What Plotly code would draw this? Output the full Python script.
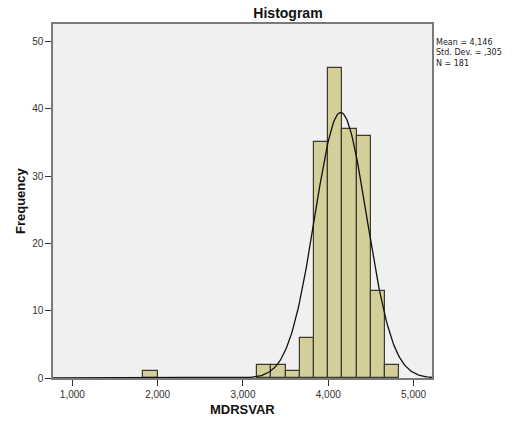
import numpy as np
import plotly.graph_objects as go

# Histogram data (values in original units; labels use comma decimal style)
bin_width = 1 / 6
bin_starts = [1.8333, 3.1667, 3.3333, 3.5, 3.6667, 3.8333, 4.0, 4.1667, 4.3333, 4.5, 4.6667]
counts = [1, 2, 2, 1, 6, 35, 46, 37, 36, 13, 2]

mean_val = 4.146
std_val = 0.305
n_val = 181

x_tick_vals = [1, 2, 3, 4, 5]
x_tick_text = ["1,000", "2,000", "3,000", "4,000", "5,000"]
y_tick_vals = [0, 10, 20, 30, 40, 50]

stats_lines = ["Mean = 4,146", "Std. Dev. = ,305", "N = 181"]

x_range = [0.773, 5.216]
y_range = [0, 52.6]

centers = [s + bin_width / 2 for s in bin_starts]

xs = np.linspace(x_range[0], x_range[1], 400)
ys = n_val * bin_width * np.exp(-0.5 * ((xs - mean_val) / std_val) ** 2) / (std_val * np.sqrt(2 * np.pi))

fig = go.Figure()
fig.add_trace(go.Bar(
    x=centers, y=counts, width=[bin_width] * len(counts),
    marker=dict(color="#D4CF98", line=dict(color="#3A3A30", width=1.2)),
    hoverinfo="x+y",
))
fig.add_trace(go.Scatter(
    x=xs, y=ys, mode="lines",
    line=dict(color="#111111", width=1.3),
    hoverinfo="skip",
))

axis_common = dict(
    showgrid=False, zeroline=False, showline=True, mirror=True,
    linecolor="#7A7A7A", linewidth=1.5, automargin=False,
    ticks="outside", ticklen=6, tickcolor="#333333", tickwidth=1.2,
    tickfont=dict(family="Liberation Sans, Arial", size=10, color="#333333"),
)

fig.update_xaxes(range=x_range, tickvals=x_tick_vals, ticktext=x_tick_text, **axis_common)
fig.update_yaxes(range=y_range, tickvals=y_tick_vals, **axis_common)

annotations = [
    dict(text="<b>MDRSVAR</b>", xref="paper", yref="paper", x=0.5, y=-0.09,
         xanchor="center", yanchor="middle", showarrow=False,
         font=dict(family="Liberation Sans, Arial", size=13, color="#111111")),
    dict(text="<b>Frequency</b>", xref="paper", yref="paper", x=-0.087, y=0.5,
         xanchor="center", yanchor="middle", textangle=-90, showarrow=False,
         font=dict(family="Liberation Sans, Arial", size=13, color="#111111")),
    dict(text="<br>".join(stats_lines), xref="paper", yref="paper", x=1.004, y=0.918,
         xanchor="left", yanchor="middle", align="left", showarrow=False,
         font=dict(family="DejaVu Sans", size=8, color="#222222")),
]

fig.update_layout(
    width=517, height=425,
    margin=dict(l=53, r=85, t=24, b=47, autoexpand=False),
    paper_bgcolor="white", plot_bgcolor="#F0F0F0",
    showlegend=False, bargap=0,
    title=dict(text="<b>Histogram</b>", x=0.557, xref="container", xanchor="center",
               y=1 - 13 / 425, yref="container", yanchor="middle",
               font=dict(family="Liberation Sans, Arial", size=14, color="#111111")),
    annotations=annotations,
)

fig.write_html("out.html", config={"displayModeBar": False},
               post_script="document.body.style.margin='0';document.body.style.padding='0';")
